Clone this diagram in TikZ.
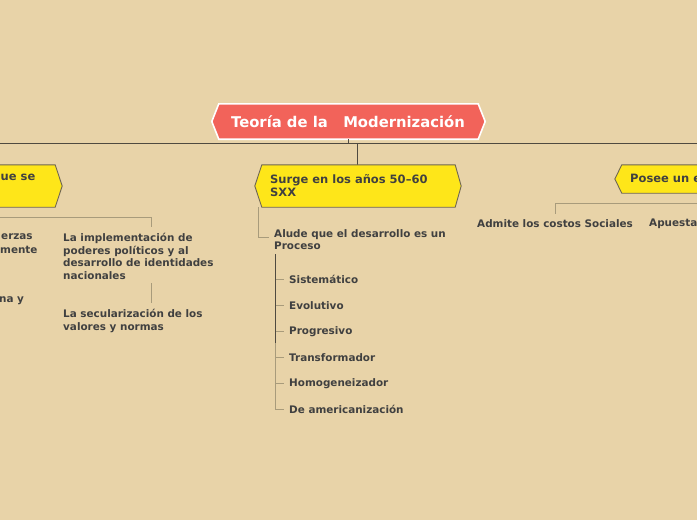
\documentclass[tikz,border=0pt]{standalone}
\usepackage{fontspec}
\setmainfont{DejaVu Sans}
\usetikzlibrary{calc}
\definecolor{bg}{HTML}{E8D3A8}
\definecolor{rootred}{HTML}{F2635A}
\definecolor{ybox}{HTML}{FEE619}
\definecolor{yborder}{HTML}{6F6652}
\definecolor{txt}{HTML}{404040}
\definecolor{dline}{HTML}{4F4A40}
\definecolor{tline}{HTML}{A89B7B}
\begin{document}
\begin{tikzpicture}[x=1pt,y=-1pt,
  small/.style={font=\bfseries\fontsize{10.4}{12.5}\selectfont, text=txt, inner sep=0, anchor=north west, align=left},
  ytext/.style={font=\bfseries\fontsize{11.5}{13}\selectfont, text=txt, inner sep=0, anchor=north west, align=left},
  roottext/.style={font=\bfseries\fontsize{14.8}{16}\selectfont, text=white, inner sep=0},
  frame/.style={rectangle, inner sep=0, draw=none},
  yshape/.style={fill=ybox, draw=yborder, line width=0.9pt, line join=miter},
  mainline/.style={draw=dline, line width=1pt},
  subline/.style={draw=tline, line width=1pt}]
\fill[bg] (0,0) rectangle (697,520);
\useasboundingbox (0,0) rectangle (697,520);
\clip (0,0) rectangle (697,520);

% root
\node[frame, minimum width=273pt, minimum height=35pt] (root) at (348.5,121.5) {};
\filldraw[fill=rootred, draw=white, line width=1.6pt]
  (root.west) -- ([xshift=7pt]root.north west) -- ([xshift=-7pt]root.north east) -- (root.east)
  -- ([xshift=-7pt]root.south east) -- ([xshift=7pt]root.south west) -- cycle;
\node[roottext] (roottxt) at (348,121.5) {Teoría de la\ \ \ Modernización};

% main horizontal line
\coordinate (hl) at (0,143);
\coordinate (hr) at (697,143);
\draw[mainline] (hl) -- (hr);
\draw[mainline] (root.south) -- (root.south |- hl);

% central box
\node[frame, minimum width=206pt, minimum height=42pt] (c) at (358,186) {};
\draw[mainline] ([xshift=-1pt]c.north |- hl) -- ([xshift=-1pt]c.north);
\filldraw[yshape]
  (c.west) -- ([xshift=7pt]c.north west) -- ([xshift=-6pt]c.north east) -- (c.east)
  -- ([xshift=-6pt]c.south east) -- ([xshift=7pt]c.south west) -- cycle;
\node[ytext] (ctxt) at (270,174) {Surge en los años 50–60\\SXX};

% left box
\node[frame, minimum width=140pt, minimum height=42pt] (lb) at (-8,186) {};
\filldraw[yshape]
  ([xshift=-5pt]lb.north west) -- ([xshift=-7pt]lb.north east) -- (lb.east)
  -- ([xshift=-7pt]lb.south east) -- ([xshift=-5pt]lb.south west) -- cycle;
\node[ytext] (lbtxt) at (0.5,174) {ue se};

% left children
\coordinate (l0) at (0,217);
\node[small] (l1a) at (1,233) {erzas};
\node[small] (l1b) at (0,245.5) {mente};
\node[small] (l2) at (-1,296) {na y};
\node[small] (l3) at (63,233) {La implementación de\\poderes políticos y al\\desarrollo de identidades\\nacionales};
\node[small] (l4) at (63,309) {La secularización de los\\valores y normas};
\draw[subline] (l0) -- (151,217) -- (151,227);
\draw[subline] (151,283) -- (151,303);

% central children
\node[small] (alude) at (274,229) {Alude que el desarrollo es un\\Proceso};
\draw[subline] ([xshift=4pt]c.south west) -- ([xshift=4pt]c.south west |- 0,237) -- ([xshift=-5pt]alude.west |- 0,237);

\foreach \t/\y/\n in {Sistemático/279/i1, Evolutivo/305/i2, Progresivo/331/i3, Transformador/357/i4, Homogeneizador/383/i5, De americanización/409/i6}{
  \node[small, anchor=west] (\n) at (289,\y+0.5) {\t};
  \draw[subline] (275,\y) -- ([xshift=-5pt]\n.west |- 0,\y);
}
\coordinate (vtop) at (275,254);
\coordinate (vmid) at (275,343);
\draw[subline] (vmid) -- (i6.west -| vmid);
\draw[mainline] (vtop) -- (vmid);

% right box
\node[frame, minimum width=140pt, minimum height=28pt] (rb) at (685,179) {};
\filldraw[yshape]
  (rb.west) -- ([xshift=7pt]rb.north west) -- ([xshift=5pt]rb.north east)
  -- ([xshift=5pt]rb.south east) -- ([xshift=7pt]rb.south west) -- cycle;
\node[ytext] (rbtxt) at (630,174) {Posee un e};

% right children
\node[small, anchor=west] (r1) at (477,223.5) {Admite los costos Sociales};
\node[small, anchor=west] (r2) at (649,223.5) {Apuesta};
\draw[subline] (697,203) -- (555,203) -- (555,214);
\end{tikzpicture}
\end{document}
